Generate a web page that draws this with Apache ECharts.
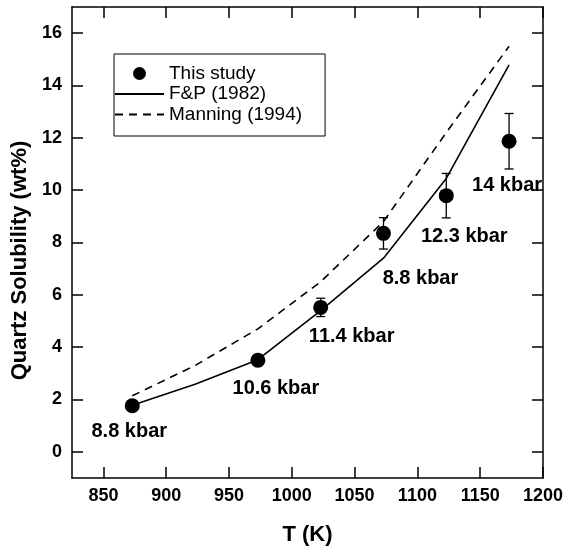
<!DOCTYPE html>
<html>
<head>
<meta charset="utf-8">
<script src="https://cdn.jsdelivr.net/npm/echarts@6/dist/echarts.min.js"></script>
<style>
	html, body { margin: 0; padding: 0; background: #fff; }
	#chart { width: 566px; height: 552px; }
</style>
</head>
<body>
<div id="chart"></div>
<script>
	// measured points (this study)
	const studyT = [873, 973, 1023, 1073, 1123, 1173];
	const studySol = [1.76, 3.5, 5.52, 8.35, 9.79, 11.87];
	const studyErr = [0.2, 0.2, 0.35, 0.6, 0.85, 1.06];
	const pressureLabels = ['8.8 kbar', '10.6 kbar', '11.4 kbar', '8.8 kbar', '12.3 kbar', '14 kbar'];

	// model curves
	const modelT = [873, 923, 973, 1023, 1073, 1123, 1173];
	const fpSol = [1.78, 2.58, 3.52, 5.4, 7.4, 10.45, 14.79];
	const manningSol = [2.14, 3.3, 4.7, 6.5, 8.8, 12.2, 15.5];

	// tick labels
	const xTicks = [850, 900, 950, 1000, 1050, 1100, 1150, 1200];
	const yTicks = [0, 2, 4, 6, 8, 10, 12, 14, 16];

	const font = 'Liberation Sans, Arial, Helvetica, sans-serif';
	// label offsets in px from each point
	const labelOffsets = [[-3, 26], [18, 28], [31, 29], [37, 45], [18, 41], [-2, 44]];

	const axisLine = { show: true, onZero: false, lineStyle: { color: '#000', width: 1.5 } };
	function xAx(pos, withLabels) {
		return {
			type: 'value', position: pos, min: 825, max: 1200,
			axisLine: axisLine,
			axisTick: { show: true, inside: true, length: 11, customValues: xTicks, lineStyle: { color: '#000', width: 1.5 } },
			axisLabel: {
				show: withLabels, customValues: xTicks, margin: 9, formatter: v => String(v),
				color: '#000', fontSize: 18, fontWeight: 'bold', fontFamily: font
			},
			splitLine: { show: false },
			name: withLabels ? 'T (K)' : '',
			nameLocation: 'middle', nameGap: 46,
			nameTextStyle: { color: '#000', fontSize: 22, fontWeight: 'bold', fontFamily: font }
		};
	}
	function yAx(pos, withLabels) {
		return {
			type: 'value', position: pos, min: -1, max: 17,
			axisLine: axisLine,
			axisTick: { show: true, inside: true, length: 11, customValues: yTicks, lineStyle: { color: '#000', width: 1.5 } },
			axisLabel: {
				show: withLabels, customValues: yTicks, margin: 10, formatter: v => String(v),
				color: '#000', fontSize: 18, fontWeight: 'bold', fontFamily: font
			},
			splitLine: { show: false },
			name: withLabels ? 'Quartz Solubility (wt%)' : '',
			nameLocation: 'middle', nameGap: 39, nameRotate: 90,
			nameTextStyle: { color: '#000', fontSize: 22, fontWeight: 'bold', fontFamily: font, padding: [0, 36, 0, 0] }
		};
	}

	const chart = echarts.init(document.getElementById('chart'), null, { renderer: 'canvas' });
	chart.setOption({
		animation: false,
		backgroundColor: '#fff',
		grid: { left: 72, right: 21, top: 7, bottom: 74 },
		xAxis: [xAx('bottom', true), xAx('top', false)],
		yAxis: [yAx('left', true), yAx('right', false)],
		legend: {
			orient: 'vertical', left: 114, top: 54,
			padding: [10, 23, 12, 0],
			itemWidth: 49, itemHeight: 13, itemGap: 1.5,
			borderColor: '#000', borderWidth: 1,
			textStyle: { color: '#000', fontSize: 19, fontFamily: font, lineHeight: 19 },
			data: [
				{ name: 'This study' },
				{ name: 'F&P (1982)', itemStyle: { opacity: 0 } },
				{ name: 'Manning (1994)', itemStyle: { opacity: 0 } }
			]
		},
		series: [
			{
				name: 'F&P (1982)', type: 'line', symbol: 'none', color: '#000',
				lineStyle: { color: '#000', width: 1.6 },
				data: modelT.map((t, i) => [t, fpSol[i]]), z: 2
			},
			{
				name: 'Manning (1994)', type: 'line', symbol: 'none', color: '#000',
				lineStyle: { color: '#000', width: 1.6, type: [8, 6] },
				data: modelT.map((t, i) => [t, manningSol[i]]), z: 2
			},
			{
				name: 'err', type: 'custom', z: 3,
				data: studyT.map((t, i) => [t, studySol[i] - studyErr[i], studySol[i] + studyErr[i]]),
				renderItem: function (params, api) {
					const lo = api.coord([api.value(0), api.value(1)]);
					const hi = api.coord([api.value(0), api.value(2)]);
					const w = 4.5;
					const st = { stroke: '#000', lineWidth: 1.3 };
					return {
						type: 'group', children: [
							{ type: 'line', shape: { x1: lo[0], y1: lo[1], x2: hi[0], y2: hi[1] }, style: st },
							{ type: 'line', shape: { x1: lo[0] - w, y1: lo[1], x2: lo[0] + w, y2: lo[1] }, style: st },
							{ type: 'line', shape: { x1: hi[0] - w, y1: hi[1], x2: hi[0] + w, y2: hi[1] }, style: st }
						]
					};
				}
			},
			{
				name: 'This study', type: 'scatter', symbol: 'circle', symbolSize: 15, z: 4,
				itemStyle: { color: '#000', opacity: 1 },
				data: studyT.map((t, i) => ({
					value: [t, studySol[i]],
					label: {
						show: true, position: 'inside', offset: labelOffsets[i],
						formatter: pressureLabels[i],
						color: '#000', fontSize: 20, fontWeight: 'bold', fontFamily: font
					}
				}))
			}
		]
	});
</script>
</body>
</html>
